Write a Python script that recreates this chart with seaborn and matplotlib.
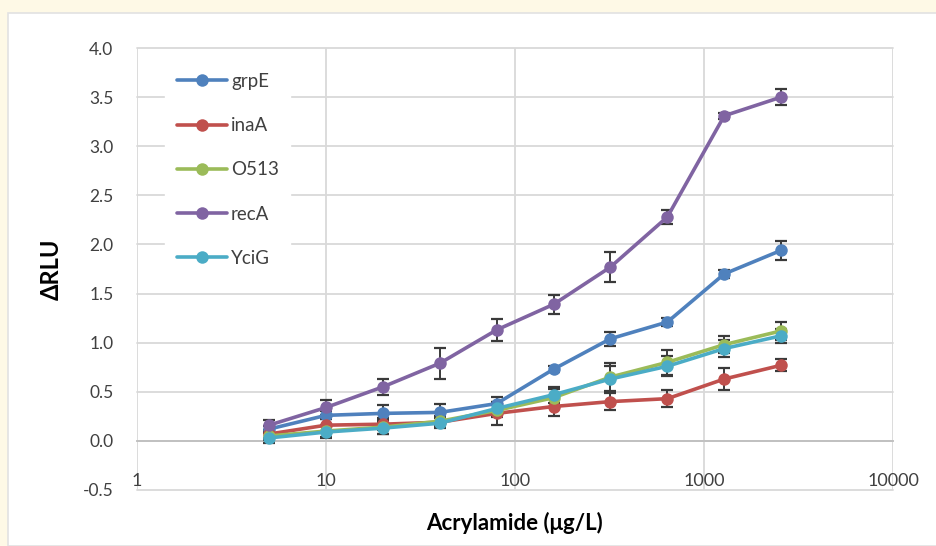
import numpy as np
import pandas as pd
import matplotlib
matplotlib.use("Agg")
import matplotlib.pyplot as plt
import matplotlib.ticker as mticker
from matplotlib.patches import Rectangle
import seaborn as sns

# ---- data ----
conc = [5, 10, 20, 40, 80, 160, 320, 640, 1280, 2560]
genes = ["grpE", "inaA", "O513", "recA", "YciG"]
grpE = [0.12, 0.26, 0.28, 0.29, 0.38, 0.73, 1.04, 1.21, 1.70, 1.94]
inaA = [0.07, 0.16, 0.17, 0.19, 0.28, 0.35, 0.40, 0.43, 0.63, 0.77]
O513 = [0.05, 0.10, 0.14, 0.20, 0.31, 0.44, 0.65, 0.80, 0.98, 1.12]
recA = [0.16, 0.34, 0.55, 0.79, 1.13, 1.39, 1.77, 2.28, 3.31, 3.50]
YciG = [0.03, 0.09, 0.13, 0.18, 0.33, 0.47, 0.63, 0.76, 0.94, 1.07]
grpE_err = [0.03, 0.04, 0.09, 0.09, 0.07, 0.03, 0.07, 0.04, 0.04, 0.10]
inaA_err = [0.04, 0.06, 0.06, 0.05, 0.12, 0.10, 0.09, 0.09, 0.11, 0.06]
O513_err = [0.04, 0.06, 0.07, 0.05, 0.07, 0.09, 0.14, 0.13, 0.09, 0.09]
recA_err = [0.05, 0.08, 0.08, 0.16, 0.11, 0.10, 0.15, 0.07, 0.03, 0.08]
YciG_err = [0.05, 0.06, 0.06, 0.05, 0.07, 0.08, 0.13, 0.10, 0.09, 0.07]
colors = ["#4F81BD", "#C0504D", "#9BBB59", "#8064A2", "#4BACC6"]
y_ticks = [-0.5, 0.0, 0.5, 1.0, 1.5, 2.0, 2.5, 3.0, 3.5, 4.0]
x_ticks = [1, 10, 100, 1000, 10000]
x_ticklabels = ["1", "10", "100", "1000", "10000"]

values = {"grpE": grpE, "inaA": inaA, "O513": O513, "recA": recA, "YciG": YciG}
errors = {"grpE": grpE_err, "inaA": inaA_err, "O513": O513_err, "recA": recA_err, "YciG": YciG_err}
df = pd.DataFrame([(g, c, v, e) for g in genes for c, v, e in zip(conc, values[g], errors[g])],
                  columns=["gene", "conc", "value", "err"])
palette = dict(zip(genes, colors))

sns.set_style("white")
plt.rcParams["font.family"] = ["Lato", "DejaVu Sans"]

fig = plt.figure(figsize=(9.36, 5.46), dpi=100)
fig.patch.set_facecolor("#FEF9E6")
fig.add_artist(Rectangle((8 / 936, 0), 1.0, 1 - 13 / 546, transform=fig.transFigure,
                         facecolor="white", edgecolor="#E2E2E2", linewidth=1.2, zorder=0))
ax = fig.add_axes([137 / 936, 1 - 490 / 546, (893 - 137) / 936, (490 - 48) / 546])
ax.set_facecolor("white")

# error bars
for g in genes:
    sub = df[df.gene == g]
    ax.errorbar(sub["conc"], sub["value"], yerr=sub["err"], fmt="none",
                ecolor="#3A3A3A", elinewidth=1.4, capsize=4, capthick=1.6, zorder=2)

sns.lineplot(data=df, x="conc", y="value", hue="gene", hue_order=genes, palette=palette,
             marker="o", markersize=9, markeredgewidth=0, linewidth=2.6, ax=ax,
             errorbar=None, zorder=3)

ax.set_xscale("log")
ax.set_xlim(1, 10000)
ax.set_ylim(-0.5, 4.0)

grid_c = "#D9D9D9"
ax.set_yticks(y_ticks)
ax.yaxis.set_major_formatter(mticker.FormatStrFormatter("%.1f"))
ax.set_xticks(x_ticks)
ax.xaxis.set_major_formatter(mticker.FixedFormatter(x_ticklabels))
ax.xaxis.set_minor_locator(mticker.LogLocator(base=10, subs=np.arange(2, 10)))
ax.xaxis.set_minor_formatter(mticker.NullFormatter())
ax.grid(True, which="major", color=grid_c, linewidth=1.3)
for ln in ax.get_xgridlines() + ax.get_ygridlines():
    ln.set_clip_on(False)

for s in ["top", "right", "left"]:
    ax.spines[s].set_visible(False)
ax.spines["bottom"].set_position(("data", 0))
ax.spines["bottom"].set_color("#BFBFBF")
ax.spines["bottom"].set_linewidth(1.3)
ax.spines["bottom"].set_zorder(1)

ax.tick_params(axis="x", which="major", length=0, pad=23, labelsize=13, labelcolor="#404040")
ax.tick_params(axis="x", which="minor", direction="in", length=5, width=1, color="#BFBFBF")
ax.tick_params(axis="y", length=0, pad=17, labelsize=12.5, labelcolor="#404040")

ax.set_xlabel("Acrylamide (μg/L)", fontsize=16, fontweight="bold", color="black")
ax.xaxis.set_label_coords(0.5, -0.05)
ax.set_ylabel("ΔRLU", fontsize=17, fontweight="bold", color="black")
ax.yaxis.set_label_coords(-0.098, 0.5)

leg = ax.legend(loc="upper left", bbox_to_anchor=(0.025, 0.99), frameon=True, fontsize=13.5,
                labelspacing=1.45, handlelength=2.7, handletextpad=0.2, borderpad=0.6)
leg.get_frame().set_facecolor("white")
leg.get_frame().set_edgecolor("white")
leg.get_frame().set_alpha(1)
leg.set_zorder(5)
for t in leg.get_texts():
    t.set_color("#404040")

fig.savefig("out.png", dpi=100, facecolor=fig.get_facecolor())
